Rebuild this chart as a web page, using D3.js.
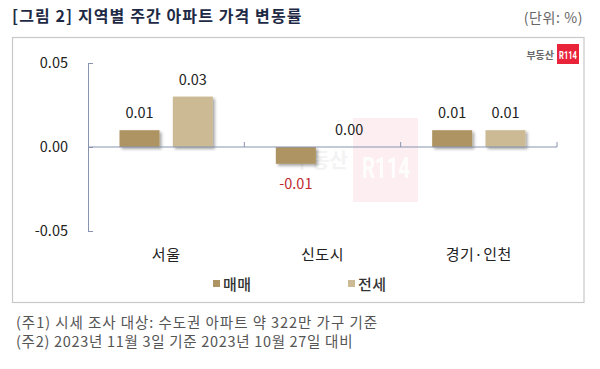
<!DOCTYPE html>
<html><head><meta charset="utf-8">
<script src="https://cdn.jsdelivr.net/npm/d3@7"></script>
<style>
html,body{margin:0;padding:0;background:#fff;}
svg{display:block;font-family:"Noto Sans CJK KR","Noto Sans",sans-serif;}
</style></head>
<body>
<svg id="chart" width="600" height="369"></svg>
<script>
const categories = ["서울", "신도시", "경기·인천"];
const seriesNames = ["매매", "전세"];
const saleValues = [0.01, -0.01, 0.01];
const jeonseValues = [0.03, 0.00, 0.01];
const yTickValues = [-0.05, 0.00, 0.05];
const titleText = "[그림 2] 지역별 주간 아파트 가격 변동률";
const unitText = "(단위: %)";
const notes = ["(주1) 시세 조사 대상: 수도권 아파트 약 322만 가구 기준", "(주2) 2023년 11월 3일 기준 2023년 10월 27일 대비"];
const colors = {"매매": "#ad9462", "전세": "#cbba94"};

const svg = d3.select("#chart");
const defs = svg.append("defs");
const f = defs.append("filter").attr("id","sh").attr("x","-20%").attr("y","-20%").attr("width","150%").attr("height","150%");
f.append("feDropShadow").attr("dx",2).attr("dy",2).attr("stdDeviation",1.4).attr("flood-color","#000").attr("flood-opacity",0.35);

// Title & unit
svg.append("text").attr("x",12).attr("y",22).attr("font-size",16).attr("font-weight","bold").attr("letter-spacing",1.1).attr("fill","#1e2a45").text(titleText);
svg.append("text").attr("x",583).attr("y",23).attr("text-anchor","end").attr("font-size",14).attr("letter-spacing",0.6).attr("fill","#666").text(unitText);

// Frame
svg.append("rect").attr("x",12.5).attr("y",37.5).attr("width",571.5).attr("height",265).attr("fill","none").attr("stroke","#c8c8c8").attr("stroke-width",1.2);

// Logo
svg.append("rect").attr("x",557).attr("y",44).attr("width",22).attr("height",20).attr("fill","#e8233a");
svg.append("text").attr("x",559).attr("y",58.5).attr("font-size",10).attr("font-weight","bold").attr("fill","#fff").attr("font-family","Roboto, sans-serif").attr("textLength",18).attr("lengthAdjust","spacingAndGlyphs").text("R114");
svg.append("text").attr("x",554).attr("y",58.5).attr("text-anchor","end").attr("font-size",10).attr("font-weight","bold").attr("fill","#6a6a6a").text("부동산");

// Watermark
svg.append("rect").attr("x",353).attr("y",118).attr("width",65).attr("height",84).attr("fill","#e8233a").attr("opacity",0.07);
svg.append("text").attr("x",362).attr("y",178).attr("font-size",30).attr("font-weight","bold").attr("fill","#fff").attr("opacity",0.9).attr("font-family","Roboto, sans-serif").attr("textLength",48).attr("lengthAdjust","spacingAndGlyphs").text("R114");
svg.append("text").attr("x",348).attr("y",168).attr("text-anchor","end").attr("font-size",20).attr("font-weight","bold").attr("fill","#f3f3f3").text("부동산");

// Scales
const y = d3.scaleLinear().domain([-0.05, 0.05]).range([231, 63]);
const x = d3.scaleBand().domain(categories).range([88, 557]).padding(0);
const xs = d3.scaleBand().domain(seriesNames).range([31.5, x.bandwidth()-31.5]).paddingInner(0.25);

const axisColor = "#8893b0";
// Y axis
const yAxis = svg.append("g").attr("transform","translate(88,0)")
  .call(d3.axisLeft(y).tickValues(yTickValues).tickFormat(d3.format(".2f")).tickSizeInner(-5).tickSizeOuter(0).tickPadding(20));
yAxis.select(".domain").attr("stroke",axisColor);
yAxis.selectAll(".tick line").attr("stroke",axisColor);
yAxis.selectAll(".tick text").attr("font-size",14.5).attr("fill","#222").attr("font-family","\"Noto Sans CJK KR\",sans-serif")
  .text(d => d < 0 ? "-" + Math.abs(d).toFixed(2) : d.toFixed(2));

// Bars
const rows = categories.map((c,i)=>({cat:c, vals:[{s:"매매",v:saleValues[i]},{s:"전세",v:jeonseValues[i]}]}));
const g = svg.append("g");
rows.forEach(r=>{
  r.vals.forEach(d=>{
    const x0 = x(r.cat) + xs(d.s);
    if (d.v !== 0) {
      g.append("rect").attr("x",x0).attr("width",xs.bandwidth())
        .attr("y",y(Math.max(0,d.v))).attr("height",Math.abs(y(d.v)-y(0)))
        .attr("fill",colors[d.s]).attr("filter","url(#sh)");
    }
    const ly = d.v < 0 ? y(d.v) + 25 : y(d.v) - 12;
    g.append("text").attr("x",x0 + xs.bandwidth()/2).attr("y",ly).attr("text-anchor","middle")
      .attr("font-size",14.5).attr("fill", d.v < 0 ? "#c0282d" : "#222")
      .text(d.v < 0 ? "-" + Math.abs(d.v).toFixed(2) : d.v.toFixed(2));
  });
});

// X axis line and ticks
svg.append("line").attr("x1",88).attr("x2",557).attr("y1",y(0)).attr("y2",y(0)).attr("stroke",axisColor).attr("stroke-width",1.2);
const bounds = categories.slice(1).map(c=>x(c)).concat([x.range()[1]]);
svg.selectAll(".xt").data(bounds).enter().append("line")
  .attr("x1",d=>d).attr("x2",d=>d).attr("y1",y(0)).attr("y2",y(0)-5).attr("stroke",axisColor);

// Category labels
svg.selectAll(".cl").data(categories).enter().append("text")
  .attr("x",d=>x(d)+x.bandwidth()/2).attr("y",260).attr("text-anchor","middle")
  .attr("font-size",15).attr("letter-spacing",0.5).attr("fill","#222").text(d=>d);

// Legend
const legX = [213, 348];
seriesNames.forEach((s,i)=>{
  svg.append("rect").attr("x",legX[i]).attr("y",280).attr("width",7).attr("height",7).attr("fill",colors[s]);
  svg.append("text").attr("x",legX[i]+10).attr("y",289.5).attr("font-size",15).attr("letter-spacing",0.5).attr("fill","#333").attr("font-weight",500).text(s);
});

// Notes
const noteSpacing = [0.95, 0.7];
notes.forEach((n,i)=>{
  svg.append("text").attr("x",16).attr("y",328 + i*19).attr("font-size",14.5).attr("letter-spacing",noteSpacing[i]).attr("fill","#555").text(n);
});
</script>
</body></html>
